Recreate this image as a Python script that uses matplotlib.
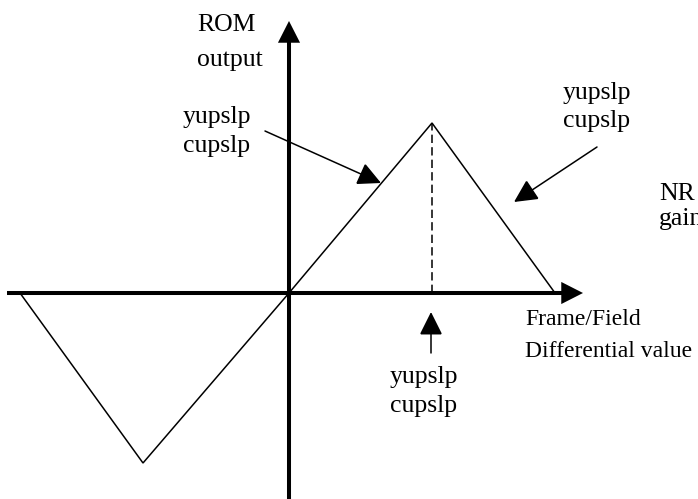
import matplotlib
matplotlib.use("Agg")
import matplotlib.pyplot as plt

plt.rcParams["font.family"] = ["Liberation Serif", "DejaVu Serif"]
plt.rcParams["lines.scale_dashes"] = False

# transfer curve breakpoints (x = frame/field differential, y = ROM output)
curve_x = [-269, -146, 0, 143, 266]
curve_y = [0, -170, 0, 170, 0]
peak_x = 143
peak_y = 170

# axis extents
x_axis = (-282, 294)
y_axis = (-206, 272)

# callout labels: (lines, baseline positions, x)
slope_label = ["yupslp", "cupslp"]
callouts = [
    # text anchor, arrow start, arrow end
    {"x": -106, "y": [170, 141], "start": (-24, 162), "end": (92, 110)},
    {"x": 274, "y": [194, 166], "start": (308, 146), "end": (225, 91)},
    {"x": 101, "y": [-90, -119], "start": (142, -60), "end": (142, -19)},
]

fig = plt.figure(figsize=(6.98, 4.99), dpi=100)
ax = fig.add_axes([0, 0, 1, 1])
ax.set_xlim(-289, 409)
ax.set_ylim(-206, 293)
ax.axis("off")

# axes with arrow heads
axis_arrow = dict(arrowstyle="-|>,head_length=0.55,head_width=0.28",
                  mutation_scale=20, lw=2.9, color="black",
                  shrinkA=0, shrinkB=0, capstyle="butt", joinstyle="miter")
ax.annotate("", xy=(x_axis[1], 0), xytext=(x_axis[0], 0), arrowprops=axis_arrow)
ax.annotate("", xy=(0, y_axis[1]), xytext=(0, y_axis[0]), arrowprops=axis_arrow)

ax.plot(curve_x, curve_y, color="black", lw=1.1, solid_joinstyle="miter")
ax.plot([peak_x, peak_x], [0, peak_y], color="black", lw=1.1,
        linestyle=(0, (6, 3)))

for c in callouts:
    for line, yb in zip(slope_label, c["y"]):
        ax.text(c["x"], yb, line, fontsize=18.5, ha="left", va="baseline")
    ax.annotate("", xy=c["end"], xytext=c["start"],
                arrowprops=dict(arrowstyle="-|>,head_length=0.4,head_width=0.2",
                                mutation_scale=36, lw=1.1, color="black",
                                shrinkA=0, shrinkB=0, joinstyle="miter"))

ax.text(-92, 262, "ROM", fontsize=18.5, ha="left", va="baseline")
ax.text(-92, 227, "output", fontsize=18.5, ha="left", va="baseline")
# the reference crops this label at the right edge
ax.text(370, 93, "NR", fontsize=18.5, ha="left", va="baseline", clip_on=False)
ax.text(370, 68, "gain", fontsize=18.5, ha="left", va="baseline", clip_on=False)
ax.text(236, -32, "Frame/Field", fontsize=17, ha="left", va="baseline")
ax.text(236, -64, "Differential value", fontsize=17, ha="left", va="baseline")

fig.savefig("out.png", dpi=100)
